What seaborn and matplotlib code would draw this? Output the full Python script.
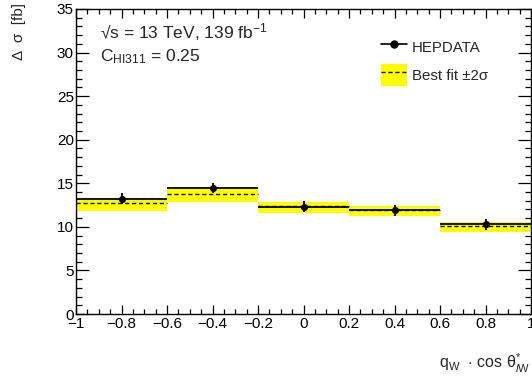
import numpy as np
import pandas as pd
import matplotlib
matplotlib.use("Agg")
import matplotlib.pyplot as plt
from matplotlib.lines import Line2D
from matplotlib.patches import Patch
import seaborn as sns

# ---- data ----
bin_lo = [-1.0, -0.6, -0.2, 0.2, 0.6]
bin_hi = [-0.6, -0.2, 0.2, 0.6, 1.0]
bin_center = [-0.8, -0.4, 0.0, 0.4, 0.8]
hep_value = [13.25, 14.45, 12.30, 11.88, 10.31]
hep_err = [0.62, 0.62, 0.65, 0.65, 0.63]
fit_value = [12.70, 13.76, 12.41, 11.95, 10.11]
fit_lo = [11.84, 12.84, 11.64, 11.19, 9.46]
fit_hi = [13.20, 14.33, 12.87, 12.45, 10.57]

x_ticks = [-1, -0.8, -0.6, -0.4, -0.2, 0, 0.2, 0.4, 0.6, 0.8, 1]
x_ticklabels = ["\u22121", "\u22120.8", "\u22120.6", "\u22120.4", "\u22120.2", "0",
                "0.2", "0.4", "0.6", "0.8", "1"]
y_ticks = [0, 5, 10, 15, 20, 25, 30, 35]

df = pd.DataFrame({"x": bin_center, "y": hep_value, "err": hep_err})

sns.set_theme(style="ticks")
plt.rcParams["font.family"] = ["Liberation Sans", "DejaVu Sans"]
plt.rcParams["mathtext.fontset"] = "custom"
plt.rcParams["mathtext.rm"] = "Liberation Sans"
plt.rcParams["mathtext.it"] = "Liberation Sans:italic"

fig = plt.figure(figsize=(5.32, 3.77), dpi=100)
ax = fig.add_axes([76 / 532, 1 - 314 / 377, 455 / 532, 305 / 377])

# best-fit band
for lo, hi, flo, fhi, fv in zip(bin_lo, bin_hi, fit_lo, fit_hi, fit_value):
    ax.fill_between([lo, hi], [flo, flo], [fhi, fhi], color="#ffff00", lw=0, zorder=1)
    ax.plot([lo, hi], [fv, fv], color="black", ls=(0, (3, 2)), lw=1.0, zorder=2)

# HEPDATA
ax.errorbar(df["x"], df["y"], xerr=0.2, yerr=df["err"], fmt="none",
            ecolor="black", elinewidth=1.3, capsize=0, zorder=3)
sns.scatterplot(data=df, x="x", y="y", ax=ax, color="black", s=26,
                edgecolor="black", linewidth=0, zorder=4, legend=False)

ax.set_xlim(-1, 1)
ax.set_ylim(0, 35)
ax.set_xticks(x_ticks)
ax.set_xticklabels(x_ticklabels)
ax.set_yticks(y_ticks)
ax.xaxis.set_minor_locator(matplotlib.ticker.MultipleLocator(0.05))
ax.yaxis.set_minor_locator(matplotlib.ticker.MultipleLocator(1))
ax.tick_params(axis="both", which="both", direction="in", top=True, right=True,
               colors="black", labelsize=11, width=0.9)
ax.tick_params(axis="y", which="major", length=9.5, pad=1.5)
ax.tick_params(axis="y", which="minor", length=4.2)
ax.tick_params(axis="x", which="major", length=6.5, pad=2.5)
ax.tick_params(axis="x", which="minor", length=3.4)
for s in ax.spines.values():
    s.set_color("black")
    s.set_linewidth(1.0)

ax.set_xlabel(r"q$_{\mathregular{W}}$  $\cdot$ cos θ$^{*}_{\mathit{l}\mathregular{W}}$",
              loc="right", fontsize=11.5)
ax.xaxis.set_label_coords(0.998, -0.125)
ax.set_ylabel("Δ  σ  [fb]", loc="top", fontsize=11)
ax.yaxis.set_label_coords(-0.11, 1.02)

ax.text(0.053, 0.902, r"√s = 13 TeV, 139 fb$^{\mathregular{-1}}$",
        transform=ax.transAxes, fontsize=12.5, va="baseline")
ax.text(0.053, 0.828, r"C$_{\mathregular{HI311}}$ = 0.25",
        transform=ax.transAxes, fontsize=12.5, va="baseline")

h1 = Line2D([], [], color="black", lw=1.2, marker="o", markersize=5)
h2 = (Patch(facecolor="#ffff00", edgecolor="none"),
      Line2D([], [], color="black", ls=(0, (3, 2)), lw=1.0))
ax.legend([h1, h2], ["HEPDATA", "Best fit ±2σ"], loc="upper left",
          bbox_to_anchor=(0.67, 0.91), frameon=False, fontsize=10.8,
          handlelength=1.73, handleheight=1.8, handletextpad=0.33,
          labelspacing=0.45, borderpad=0, borderaxespad=0)

fig.savefig("out.png", dpi=100)
